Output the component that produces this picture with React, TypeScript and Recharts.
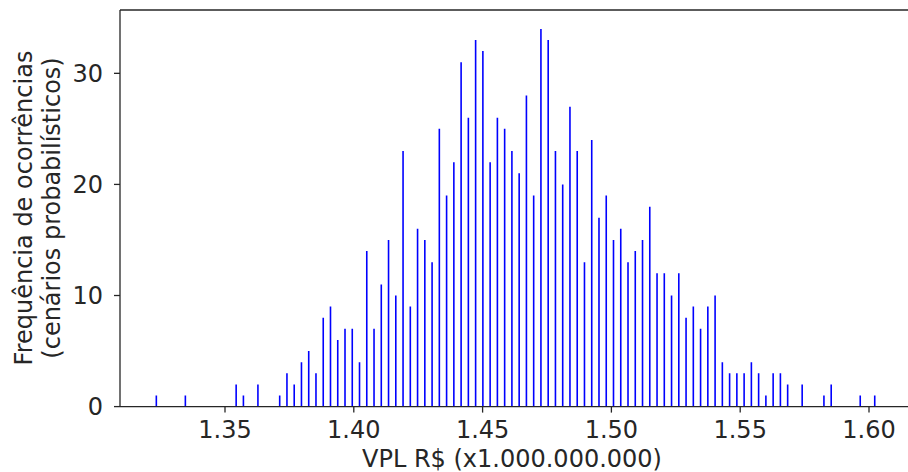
import { BarChart, Bar, XAxis, YAxis, Label, ReferenceLine } from 'recharts'

// histogram: 100 bins, vertical lines at bin starts
const binStart = 1.3232
const binWidth = 0.002817
const counts = [
  1, 0, 0, 0, 1, 0, 0, 0, 0, 0,
  0, 2, 1, 0, 2, 0, 0, 1, 3, 2,
  4, 5, 3, 8, 9, 6, 7, 7, 4, 14,
  7, 11, 15, 10, 23, 9, 16, 15, 13, 25,
  19, 22, 31, 26, 33, 32, 22, 26, 25, 23,
  21, 28, 19, 34, 33, 23, 20, 27, 23, 13,
  24, 17, 19, 15, 16, 13, 14, 15, 18, 12,
  12, 10, 12, 8, 9, 7, 9, 10, 4, 3,
  3, 3, 4, 3, 1, 3, 3, 2, 0, 2,
  0, 0, 1, 2, 0, 0, 0, 1, 0, 1,
]
const xTicks = [1.35, 1.4, 1.45, 1.5, 1.55, 1.6]
const yTicks = [0, 10, 20, 30]
const xDomain = [1.30924, 1.61514]
const yMax = 35.7

const data = counts.map((c, i) => ({ x: binStart + i * binWidth, count: c }))

const textColor = '#262626'
const font = '"DejaVu Sans", sans-serif'

const VLine = (props: any) => {
  const { x, y, width, height } = props
  if (!height || height <= 0) return null
  const cx = x + width / 2
  return <line x1={cx} x2={cx} y1={y} y2={y + height} stroke="#0000ff" strokeWidth={1.6} />
}

const YTitle = () => (
  <g fill={textColor} fontSize={24} fontFamily={font}>
    <text x={24} y={208} transform="rotate(-90 24 208)" textAnchor="middle" dominantBaseline="central">
      Frequência de ocorrências
    </text>
    <text x={52} y={208} transform="rotate(-90 52 208)" textAnchor="middle" dominantBaseline="central">
      (cenários probabilísticos)
    </text>
  </g>
)

const XTitle = () => (
  <text x={512} y={467} textAnchor="middle" fill={textColor} fontSize={24} fontFamily={font}>
    VPL R$ (x1.000.000.000)
  </text>
)

export default function App() {
  // fixed to the viewport so the page never scrolls
  return (
    <div style={{ position: 'fixed', left: 0, top: 0, width: 908, height: 472, background: '#fff' }}>
      <BarChart
        width={908}
        height={472}
        data={data}
        margin={{ top: 10, right: 0, bottom: 5.4, left: 60 }}
        style={{ fontFamily: font }}
      >
        <XAxis
          type="number"
          dataKey="x"
          domain={xDomain}
          ticks={xTicks}
          allowDataOverflow
          tickFormatter={(v: number) => v.toFixed(2)}
          height={60}
          tickSize={6}
          tickMargin={8}
          stroke={textColor}
          strokeWidth={1.3}
          tick={{ fill: textColor, fontSize: 24 }}
        >
          <Label content={XTitle} />
        </XAxis>
        <YAxis
          type="number"
          domain={[0, yMax]}
          ticks={yTicks}
          allowDataOverflow
          width={60}
          tickSize={6}
          tickMargin={11}
          stroke={textColor}
          strokeWidth={1.3}
          tick={{ fill: textColor, fontSize: 24 }}
        >
          <Label content={YTitle} />
        </YAxis>
        <ReferenceLine y={yMax} stroke={textColor} strokeWidth={1.3} />
        <Bar dataKey="count" barSize={2} shape={VLine} isAnimationActive={false} />
      </BarChart>
    </div>
  )
}
